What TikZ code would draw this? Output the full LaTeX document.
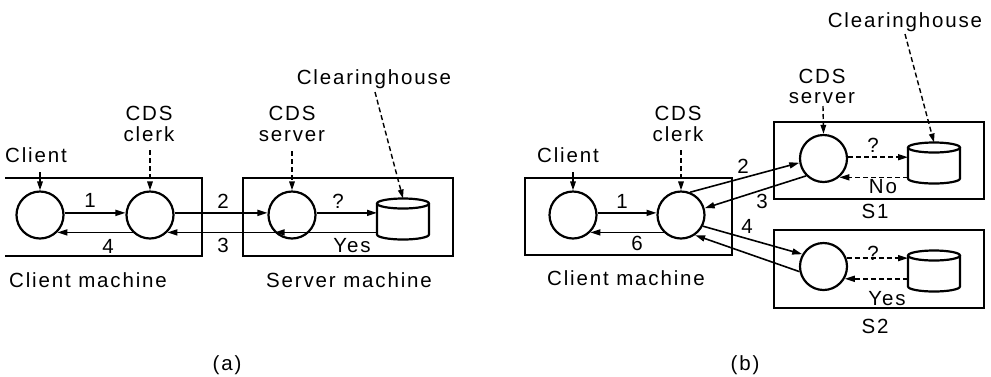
\documentclass[tikz,border=0pt]{standalone}
\usepackage{fontspec}
\setmainfont{Liberation Sans}[LetterSpace=9]
\usetikzlibrary{arrows.meta}
\tikzset{
  proc/.style={circle, draw, line width=2.2pt, minimum size=47pt, inner sep=0pt},
  mbox/.style={draw, line width=2.5pt, inner sep=0pt},
  cylb/.style={draw=none, minimum width=52pt, minimum height=41pt, inner sep=0pt, outer sep=0pt},
  cyl/.style={line width=2.2pt},
  arr/.style={line width=1.6pt, -{Triangle[length=10pt,width=6pt]}},
  darr/.style={arr, dash pattern=on 5pt off 3pt},
  dlead/.style={line width=1.4pt, dash pattern=on 5pt off 3pt, -{Triangle[length=9pt,width=5.5pt]}},
  slead/.style={line width=1.6pt, -{Triangle[length=9pt,width=5.5pt]}},
  txt/.style={font=\fontsize{20.5}{22}\selectfont, inner sep=0pt, anchor=base},
}
\newcommand{\cylat}[2]{%
  \node[cylb] (#1) at (#2) {};
  \draw[cyl] ([yshift=-5pt]#1.north west) -- ([yshift=5pt]#1.south west)
     arc[start angle=180, end angle=360, x radius=26pt, y radius=5pt]
     -- ([yshift=-5pt]#1.north east);
  \draw[cyl] ([yshift=-5pt]#1.north) ellipse[x radius=26pt, y radius=5pt];
}
\begin{document}
\begin{tikzpicture}[x=1pt, y=-1pt]
\useasboundingbox (0,0) rectangle (991,376);

% ---------------- (a) ----------------
\draw[line width=2.5pt] (5,178) -- (202,178) -- (202,256) -- (5,256);
\node[mbox, minimum width=210pt, minimum height=78pt] (smbox) at (348,217) {};

\node[proc] (c1) at (40,215) {};
\node[proc] (k1) at (150,215) {};
\node[proc] (s1) at (292,215) {};
\cylat{cy1}{403,219}

\node[txt] (tclient1) at (36,162) {Client};
\node[txt] (tcds1) at (149,120) {CDS};
\node[txt] (tclerk1) at (149,141) {clerk};
\node[txt] (tcdss1) at (292,120) {CDS};
\node[txt] (tserver1) at (292,141) {server};
\node[txt] (tch1) at (374,84) {Clearinghouse};
\node[txt] (tcm1) at (88,287) {Client machine};
\node[txt] (tsm1) at (349,287) {Server machine};
\node[txt] (ta) at (227,370) {(a)};

\node[txt] (n1a) at (90,207) {1};
\node[txt] (n4a) at (108,253) {4};
\node[txt] (n2a) at (223,208) {2};
\node[txt] (n3a) at (223,252) {3};
\node[txt] (qa) at (338,208) {?};
\node[txt] (ya) at (352,252) {Yes};

\draw[arr] (c1.5) -- (k1.175);
\draw[arr] (k1.-135) -- (c1.-45);
\draw[arr] (k1.5) -- (s1.175);
\draw[arr] (s1.-135) -- (k1.-45);
\draw[arr] (s1.5) -- (s1.5 -| cy1.west);
\draw[arr] (s1.-135 -| cy1.west) -- (s1.-135);

\coordinate (l1) at (40,172);
\coordinate (l2) at (150,150);
\coordinate (l3) at (292,151);
\coordinate (l4) at (375,92);
\draw[slead] (l1) -- (c1.north);
\draw[dlead] (l2) -- (k1.north);
\draw[dlead] (l3) -- (s1.north);
\draw[dlead] (l4) -- (cy1.north);

% ---------------- (b) ----------------
\node[mbox, minimum width=207pt, minimum height=77pt] (cmbox) at (628.5,216.5) {};
\node[mbox, minimum width=210pt, minimum height=77pt] (sbox1) at (879,160.5) {};
\node[mbox, minimum width=210pt, minimum height=78pt] (sbox2) at (879,269) {};

\node[proc] (c2) at (573,215) {};
\node[proc] (k2) at (681,215) {};
\node[proc] (s1b) at (823.5,158.5) {};
\node[proc] (s2b) at (823.5,266.5) {};
\cylat{cy2}{934,163}
\cylat{cy3}{934,271}

\node[txt] (tclient2) at (568,162) {Client};
\node[txt] (tcds2) at (678,120) {CDS};
\node[txt] (tclerk2) at (678,141) {clerk};
\node[txt] (tcm2) at (626,285) {Client machine};
\node[txt] (tcdss2) at (822,83) {CDS};
\node[txt] (tserver2) at (822,103) {server};
\node[txt] (tch2) at (905,27) {Clearinghouse};
\node[txt] (ts1) at (875,218) {S1};
\node[txt] (ts2) at (875,333) {S2};
\node[txt] (tb) at (745,370) {(b)};

\node[txt] (n1b) at (622,208) {1};
\node[txt] (n6b) at (637,250) {6};
\node[txt] (n2b) at (743,173) {2};
\node[txt] (n3b) at (762,208) {3};
\node[txt] (n4b) at (747,233) {4};
\node[txt] (qb1) at (873,152) {?};
\node[txt] (nob) at (883,193) {No};
\node[txt] (qb2) at (873,260) {?};
\node[txt] (yb) at (887,305) {Yes};

\draw[arr] (c2.5) -- (k2.175);
\draw[arr] (k2.-135) -- (c2.-45);
\draw[arr] (k2.68) -- (s1b.190);
\draw[arr] (s1b.225) -- (k2.16);
\draw[arr] (k2.-27) -- (s2b.150);
\draw[arr] (s2b.192) -- (k2.-55);

\draw[darr] (s1b.3) -- (s1b.3 -| cy2.west);
\draw[darr] (s1b.-50 -| cy2.west) -- (s1b.-50);
\draw[darr] (s2b.20) -- (s2b.20 -| cy3.west);
\draw[darr] (s2b.-30 -| cy3.west) -- (s2b.-30);

\coordinate (l5) at (573,172);
\coordinate (l6) at (681,150);
\coordinate (l7) at (823,106);
\coordinate (l8) at (905,34);
\draw[slead] (l5) -- (c2.north);
\draw[dlead] (l6) -- (k2.north);
\draw[dlead] (l7) -- (s1b.north);
\draw[dlead] (l8) -- (cy2.north);
\end{tikzpicture}
\end{document}
